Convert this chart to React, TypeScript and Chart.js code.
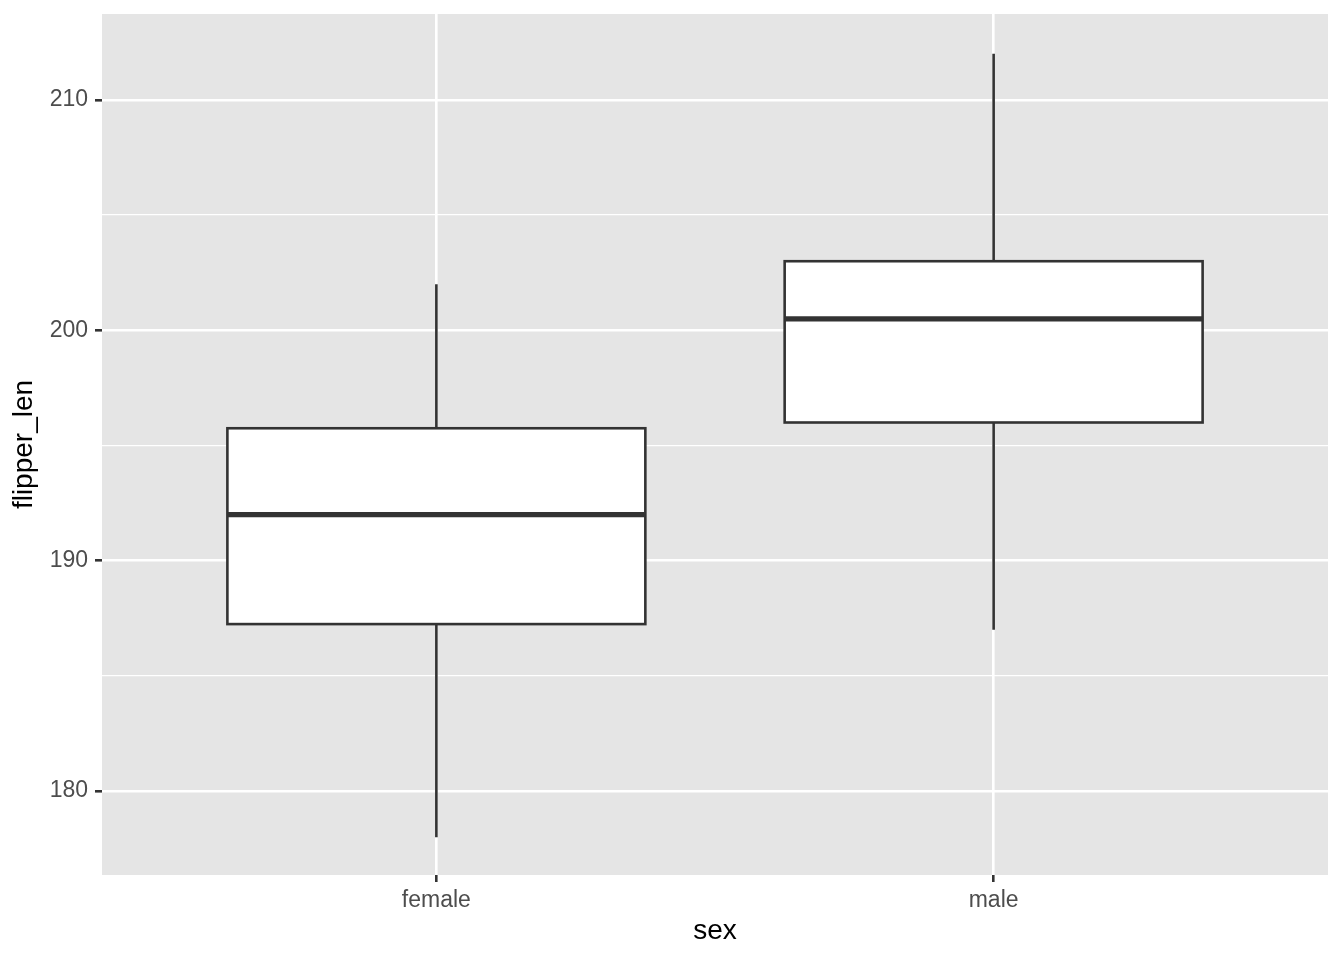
import React, { useEffect, useRef } from "react";
import { Chart, registerables } from "chart.js";

Chart.register(...registerables);

const categories = ["female", "male"];
const q1 = [187.25, 196];
const median = [192, 200.5];
const q3 = [195.75, 203];
const whiskerLow = [178, 187];
const whiskerHigh = [202, 212];
const yMajorTicks = [180, 190, 200, 210];
const yMinorTicks = [185, 195, 205];

const FONT = '"Liberation Sans", Arial, Helvetica, sans-serif';
const LINE = "#333333";

const boxPlugin = {
  id: "boxExtras",
  beforeDraw(chart: any) {
    const { ctx, chartArea } = chart;
    ctx.save();
    ctx.fillStyle = "#E5E5E5";
    ctx.fillRect(chartArea.left, chartArea.top, chartArea.right - chartArea.left, chartArea.bottom - chartArea.top);
    ctx.restore();
  },
  afterDatasetsDraw(chart: any) {
    const { ctx } = chart;
    const y = chart.scales.y;
    const meta = chart.getDatasetMeta(0);
    ctx.save();
    ctx.strokeStyle = LINE;
    ctx.lineCap = "butt";
    meta.data.forEach((el: any, i: number) => {
      const cx = el.x;
      const half = el.width / 2;
      const yTop = y.getPixelForValue(q3[i]);
      const yBot = y.getPixelForValue(q1[i]);
      ctx.lineWidth = 2.6;
      ctx.beginPath();
      ctx.moveTo(cx, yTop);
      ctx.lineTo(cx, y.getPixelForValue(whiskerHigh[i]));
      ctx.moveTo(cx, yBot);
      ctx.lineTo(cx, y.getPixelForValue(whiskerLow[i]));
      ctx.stroke();
      ctx.strokeRect(cx - half, yTop, half * 2, yBot - yTop);
      ctx.lineWidth = 5.2;
      ctx.beginPath();
      const my = y.getPixelForValue(median[i]);
      ctx.moveTo(cx - half, my);
      ctx.lineTo(cx + half, my);
      ctx.stroke();
    });
    ctx.restore();
  },
};

export default function App() {
  const ref = useRef<HTMLCanvasElement | null>(null);
  useEffect(() => {
    if (!ref.current) return;
    const isMajor = (v: number) => yMajorTicks.includes(v);
    const chart = new Chart(ref.current, {
      type: "bar",
      data: {
        datasets: [
          {
            data: categories.map((c, i) => ({ x: i + 1, y: [q1[i], q3[i]] })) as any,
            backgroundColor: "#FFFFFF",
            borderWidth: 0,
            barPercentage: 0.75,
            categoryPercentage: 1,
          },
        ],
      },
      options: {
        responsive: false,
        animation: false,
        layout: { padding: { top: 14, right: 16, left: 0, bottom: 0 } },
        plugins: { legend: { display: false }, tooltip: { enabled: false } },
        scales: {
          x: {
            type: "linear",
            min: 0.4,
            max: 2.6,
            offset: false,
            afterBuildTicks: (s: any) => {
              s.ticks = categories.map((c, i) => ({ value: i + 1 }));
            },
            afterFit: (s: any) => {
              s.height = 85;
              s.paddingLeft = 0;
              s.paddingRight = 0;
            },
            ticks: {
              callback: (v: any) => categories[Math.round(Number(v)) - 1] ?? "",
              font: { family: FONT, size: 23 },
              color: "#4D4D4D",
              padding: 5,
              maxRotation: 0,
              autoSkip: false,
            },
            grid: {
              offset: false,
              color: "#FFFFFF",
              lineWidth: 2.6,
              tickColor: LINE,
              tickWidth: 2.6,
              tickLength: 7,
            },
            border: { display: false },
            title: {
              display: true,
              text: "sex",
              font: { family: FONT, size: 28 },
              color: "#000000",
              padding: { top: 0, bottom: 12 },
            },
          },
          y: {
            type: "linear",
            min: 176.36,
            max: 213.73,
            afterBuildTicks: (s: any) => {
              s.ticks = [...yMajorTicks, ...yMinorTicks].sort((a, b) => a - b).map((v) => ({ value: v }));
            },
            afterFit: (s: any) => {
              s.width = 102;
              s.paddingTop = 0;
              s.paddingBottom = 0;
            },
            ticks: {
              callback: (v: any) => (isMajor(Number(v)) ? String(v) : ""),
              font: { family: FONT, size: 23 },
              color: "#4D4D4D",
              padding: 7,
              autoSkip: false,
            },
            grid: {
              color: "#FFFFFF",
              lineWidth: (c: any) => (isMajor(c.tick?.value) ? 2.6 : 1.3),
              tickColor: (c: any) => (isMajor(c.tick?.value) ? LINE : "rgba(0,0,0,0)"),
              tickWidth: 2.6,
              tickLength: 7,
            },
            border: { display: false },
            title: {
              display: true,
              text: "flipper_len",
              font: { family: FONT, size: 28 },
              color: "#000000",
              padding: { top: 7, bottom: 0 },
            },
          },
        },
      } as any,
      plugins: [boxPlugin],
    });
    return () => chart.destroy();
  }, []);
  return (
    <div style={{ position: "absolute", left: 0, top: 0, width: 1344, height: 960, background: "#FFFFFF" }}>
      <canvas ref={ref} width={1344} height={960} />
    </div>
  );
}
